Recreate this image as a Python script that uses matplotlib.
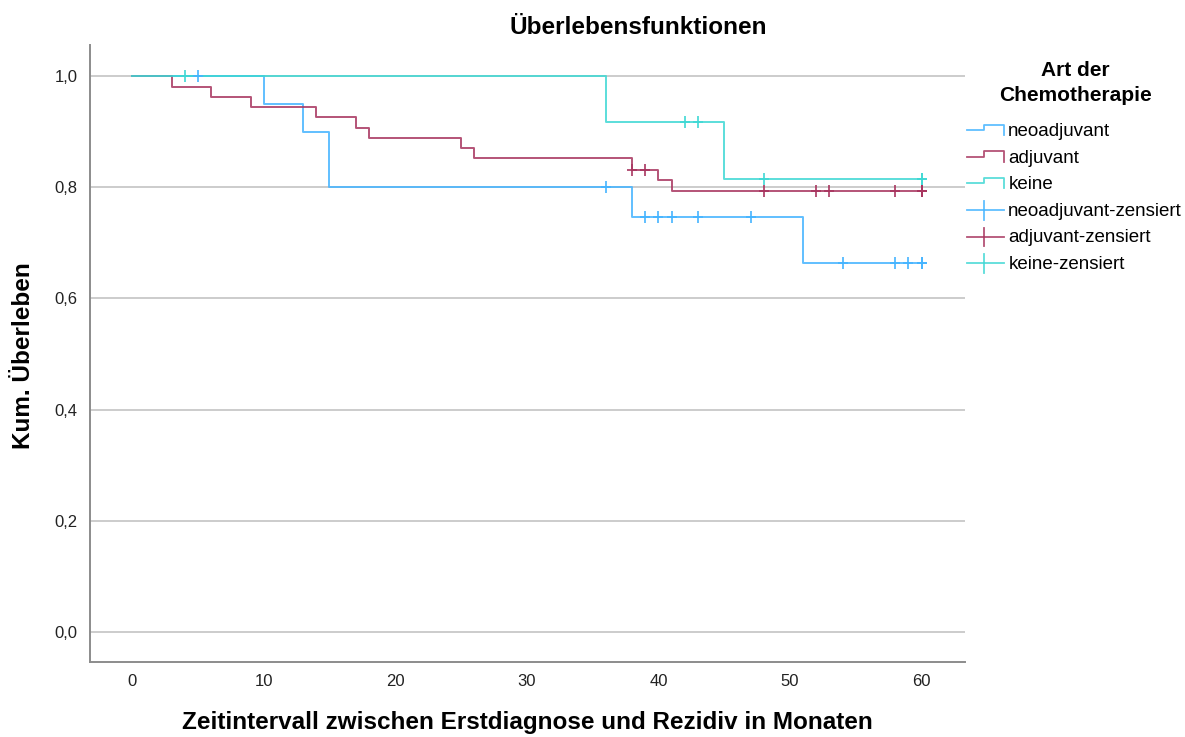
import matplotlib.pyplot as plt
from matplotlib.legend_handler import HandlerBase
from matplotlib.lines import Line2D
from matplotlib.ticker import FuncFormatter

plt.rcParams['font.family'] = ['Liberation Sans', 'DejaVu Sans']

# Kaplan-Meier steps (event times and survival after each event)
groups = ['neoadjuvant', 'adjuvant', 'keine']
colors = ['#45b4ff', '#a8355f', '#3fd8d4']

neo_times = [0, 10, 13, 15, 38, 51]
neo_surv = [1.0, 0.95, 0.90, 0.80, 0.747, 0.664]
neo_cens = [5, 36, 39, 40, 41, 43, 47, 54, 58, 59, 60, 60]

adj_times = [0, 3, 6, 9, 14, 17, 18, 25, 26, 38, 40, 41]
adj_surv = [1.0, 0.981, 0.963, 0.944, 0.926, 0.907, 0.889, 0.870, 0.852,
            0.832, 0.813, 0.793]
adj_cens = [38, 39, 48, 52, 53, 58, 60, 60, 60]

kei_times = [0, 36, 45]
kei_surv = [1.0, 0.917, 0.815]
kei_cens = [4, 42, 43, 48, 60, 60]

t_end = 60
step_data = [(neo_times, neo_surv, neo_cens),
             (adj_times, adj_surv, adj_cens),
             (kei_times, kei_surv, kei_cens)]


def surv_at(times, surv, t):
    s = surv[0]
    for ti, si in zip(times, surv):
        if ti <= t:
            s = si
    return s


class StepHandler(HandlerBase):
    def create_artists(self, legend, orig, xd, yd, w, h, fontsize, trans):
        xs = [xd, xd + w * 0.47, xd + w * 0.47, xd + w, xd + w]
        ys = [yd + h * 0.45, yd + h * 0.45, yd + h * 0.85, yd + h * 0.85, yd + h * 0.05]
        ln = Line2D(xs, ys, color=orig.get_color(), lw=1.3, alpha=0.85, transform=trans)
        return [ln]


class CrossHandler(HandlerBase):
    def create_artists(self, legend, orig, xd, yd, w, h, fontsize, trans):
        c = orig.get_color()
        l1 = Line2D([xd, xd + w], [yd + h * 0.4, yd + h * 0.4], color=c, lw=1.3,
                    alpha=0.85, transform=trans)
        l2 = Line2D([xd + w * 0.47, xd + w * 0.47], [yd - h * 0.3, yd + h * 1.1],
                    color=c, lw=1.3, alpha=0.85, transform=trans)
        return [l1, l2]


fig = plt.figure(figsize=(11.85, 7.37), dpi=100)
ax = fig.add_axes([90 / 1185, 1 - 662 / 737, 875 / 1185, 617 / 737])

for y in [0, 0.2, 0.4, 0.6, 0.8, 1.0]:
    ax.axhline(y, color='#c8c8c8', lw=1.3, zorder=0)

line_handles = []
cens_handles = []
for (times, surv, cens), col in zip(step_data, colors):
    xs = list(times) + [t_end]
    ys = list(surv) + [surv[-1]]
    h, = ax.step(xs, ys, where='post', color=col, lw=1.4, alpha=0.85, zorder=3)
    line_handles.append(h)
    cy = [surv_at(times, surv, t) for t in cens]
    c, = ax.plot(cens, cy, linestyle='none', marker='|', markersize=9,
                 markeredgewidth=1.4, color=col, alpha=0.85, zorder=4)
    ax.plot(cens, cy, linestyle='none', marker='_', markersize=7,
            markeredgewidth=1.4, color=col, alpha=0.85, zorder=4)
    cens_handles.append(c)

ax.set_xlim(-3.2, 63.3)
ax.set_ylim(-0.054, 1.056)
ax.set_xticks([0, 10, 20, 30, 40, 50, 60])
ax.set_yticks([0, 0.2, 0.4, 0.6, 0.8, 1.0])
ax.yaxis.set_major_formatter(FuncFormatter(lambda v, p: f'{v:.1f}'.replace('.', ',')))
ax.tick_params(length=0, labelsize=12, colors='#222222')
ax.tick_params(axis='x', pad=9)
ax.tick_params(axis='y', pad=9)
for s in ['top', 'right']:
    ax.spines[s].set_visible(False)
for s in ['left', 'bottom']:
    ax.spines[s].set_color('#8c8c8c')
    ax.spines[s].set_linewidth(1.4)

fig.text(638 / 1185, 1 - 27 / 737, 'Überlebensfunktionen', ha='center', va='center',
         fontsize=17.5, fontweight='bold')
fig.text(527 / 1185, 1 - 723 / 737, 'Zeitintervall zwischen Erstdiagnose und Rezidiv in Monaten',
         ha='center', va='center', fontsize=17.5, fontweight='bold')
fig.text(24 / 1185, 1 - 356 / 737, 'Kum. Überleben', ha='center', va='center',
         rotation=90, fontsize=17.5, fontweight='bold')

fig.text(1075 / 1185, 1 - 83 / 737, 'Art der\nChemotherapie', ha='center', va='center',
         fontsize=15, fontweight='bold', linespacing=1.4)

labels = groups + [g + '-zensiert' for g in groups]
handler_map = {h: StepHandler() for h in line_handles}
handler_map.update({h: CrossHandler() for h in cens_handles})
leg = fig.legend(line_handles + cens_handles, labels, handler_map=handler_map,
                 loc='upper left', bbox_to_anchor=(967 / 1185, 1 - 123 / 737),
                 frameon=False, fontsize=13.5, handlelength=1.95, handletextpad=0.25,
                 labelspacing=0.5, borderaxespad=0, borderpad=0)

fig.savefig('out.png', dpi=100)
